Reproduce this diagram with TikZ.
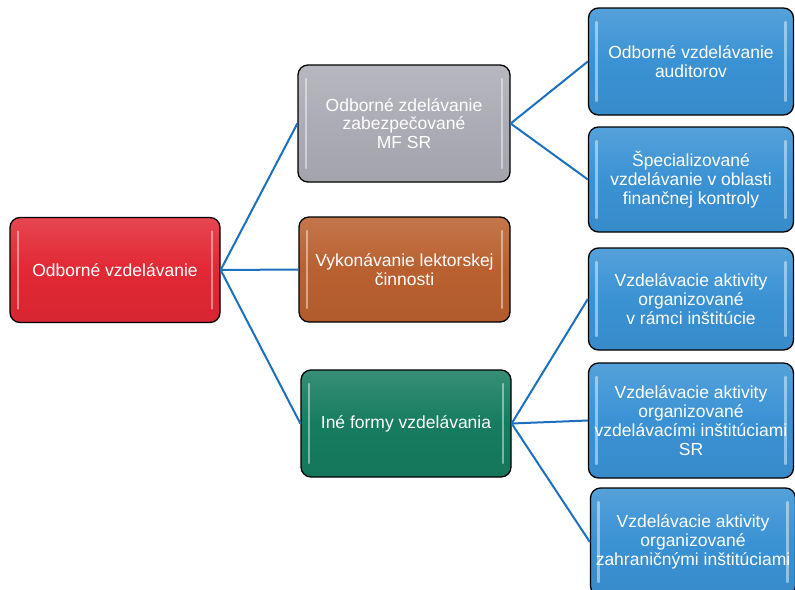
\documentclass[tikz,border=0pt]{standalone}
\usepackage{fontspec}
\setmainfont{Liberation Sans}

\definecolor{rootred}{RGB}{226,40,52}
\definecolor{mfgray}{RGB}{172,172,182}
\definecolor{lekorange}{RGB}{186,96,48}
\definecolor{inegreen}{RGB}{22,124,96}
\definecolor{subblue}{RGB}{58,146,212}
\definecolor{linkblue}{RGB}{28,112,190}

\tikzset{
    gelbox/.style={draw=black, line width=1.3pt, rounded corners=10pt,
        top color=#1!86!white, bottom color=#1!95!black, middle color=#1,
        minimum width=205pt, minimum height=105pt, inner sep=2pt,
        align=center, text=white, font=\fontsize{17.5}{18.8}\selectfont,
        path picture={
            \draw[white, opacity=0.45, line width=2.2pt, line cap=round]
                ([xshift=8pt,yshift=-14pt]path picture bounding box.north west) --
                ([xshift=8pt,yshift=14pt]path picture bounding box.south west);
            \draw[white, opacity=0.45, line width=2.2pt, line cap=round]
                ([xshift=-8pt,yshift=-14pt]path picture bounding box.north east) --
                ([xshift=-8pt,yshift=14pt]path picture bounding box.south east);
        }},
    link/.style={draw=linkblue, line width=2pt},
}

\begin{document}
\begin{tikzpicture}[x=1pt, y=-1pt]
    % page frame (pixel units)
    \clip (0,0) rectangle (795,589);
    \fill[white] (0,0) rectangle (795,589);

    % left column
    \node[gelbox=rootred, minimum width=210pt] (odborne) at (115,270) {Odborné vzdelávanie};

    % middle column
    \node[gelbox=mfgray, minimum width=212pt, minimum height=117pt] (mfsr) at (404,123.5)
        {Odborné zdelávanie\\zabezpečované\\MF SR};
    \node[gelbox=lekorange, minimum width=211pt] (lektor) at (404.5,269.5)
        {Vykonávanie lektorskej\\činnosti};
    \node[gelbox=inegreen, minimum width=210pt, minimum height=107pt] (ine) at (406,423.5)
        {Iné formy vzdelávania};

    % right column
    \node[gelbox=subblue, minimum height=107pt] (audit) at (691,61.5)
        {Odborné vzdelávanie\\auditorov};
    \node[gelbox=subblue] (kontrola) at (691,179.5)
        {Špecializované\\vzdelávanie v oblasti\\finančnej kontroly};
    \node[gelbox=subblue, minimum height=102pt] (instit) at (691,299)
        {Vzdelávacie aktivity\\organizované\\v rámci inštitúcie};
    \node[gelbox=subblue, minimum height=115pt] (vzdsr) at (691,420.5)
        {Vzdelávacie aktivity\\organizované\\vzdelávacími inštitúciami\\SR};
    \node[gelbox=subblue, minimum height=108pt] (zahr) at (693,542)
        {Vzdelávacie aktivity\\organizované\\zahraničnými inštitúciami};

    % connectors
    \draw[link] (odborne.east) -- (mfsr.west);
    \draw[link] (odborne.east) -- (lektor.west);
    \draw[link] (odborne.east) -- (ine.west);

    \draw[link] (mfsr.east) -- (audit.west);
    \draw[link] (mfsr.east) -- (kontrola.west);

    \draw[link] (ine.east) -- (instit.west);
    \draw[link] (ine.east) -- (vzdsr.west);
    \draw[link] (ine.east) -- (zahr.west);
\end{tikzpicture}
\end{document}
